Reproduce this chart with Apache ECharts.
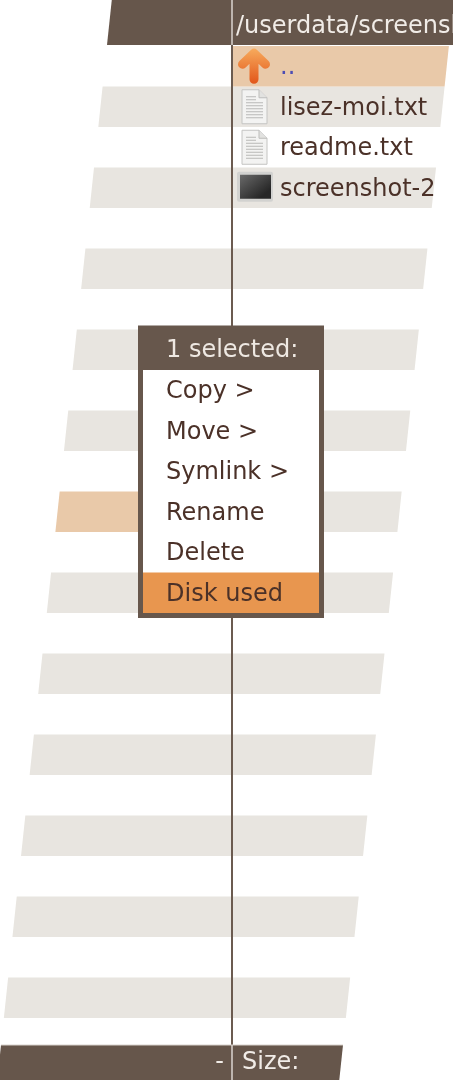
<!DOCTYPE html>
<html>
<head>
<meta charset="utf-8">
<script src="https://cdn.jsdelivr.net/npm/echarts@6/dist/echarts.min.js"></script>
<style>
html, body { margin: 0; padding: 0; background: #fff; }
#chart { width: 453px; height: 1080px; }
</style>
</head>
<body>
<div id="chart"></div>
<script>
// contents of the screen
var headerPath = '/userdata/screenshots';
var fileNames = ['..', 'lisez-moi.txt', 'readme.txt', 'screenshot-2'];
var fileIcons = ['up', 'doc', 'doc', 'image'];
var stripeRows = [1, 3, 5, 7, 9, 11, 13, 15, 17, 19, 21, 23];
var selectedRightRows = [0];
var selectedLeftRows = [11];
var menuTitle = '1 selected:';
var menuItems = ['Copy >', 'Move >', 'Symlink >', 'Rename', 'Delete', 'Disk used'];
var menuActive = 5;
var menuFirstRow = 7;
var footerLeft = '-';
var footerRight = 'Size:';

var TOP = 46, ROW_H = 40.5, SKEW = 0.106, LEFT0 = 107, WIDTH = 342, SPLIT = 232;
var HEAD_H = 45, FOOT_Y = 1045, TXT_DY = 2;
var FONT = "'DejaVu Sans', sans-serif", FS = 24;
var DARK = '#66564b', GRAY = '#e8e5e0', PEACH = '#e9c9a9', ORANGE = '#e8964f', INK = '#4b3128';

function edge(y) { return LEFT0 - SKEW * (y - HEAD_H); }
function rowTop(i) { return TOP + ROW_H * i; }

function quad(api, x0a, x1a, y0, x0b, x1b, y1) {
    return [api.coord([x0a, y0]), api.coord([x1a, y0]), api.coord([x1b, y1]), api.coord([x0b, y1])];
}

var rowData = [];
stripeRows.forEach(function (r) { rowData.push([r, selectedLeftRows.indexOf(r) >= 0 ? 2 : 1]); });
selectedRightRows.forEach(function (r) { rowData.push([r, 3]); });

var myChart = echarts.init(document.getElementById('chart'));
var option = {
    animation: false,
    grid: { left: 0, right: 0, top: 0, bottom: 0 },
    xAxis: { type: 'value', min: 0, max: 453, show: false },
    yAxis: { type: 'value', min: 0, max: 1080, inverse: true, show: false },
    series: [
        {
            // striped rows
            type: 'custom', z: 1, silent: true,
            data: rowData,
            renderItem: function (params, api) {
                var r = api.value(0), kind = api.value(1);
                var y0 = rowTop(r), y1 = y0 + ROW_H;
                var l0 = edge(y0), l1 = edge(y1);
                var children = [];
                if (kind === 1) {
                    children.push({ type: 'polygon', shape: { points: quad(api, l0, l0 + WIDTH, y0, l1, l1 + WIDTH, y1) }, style: { fill: GRAY } });
                } else if (kind === 2) {
                    children.push({ type: 'polygon', shape: { points: quad(api, l0, SPLIT, y0, l1, SPLIT, y1) }, style: { fill: PEACH } });
                    children.push({ type: 'polygon', shape: { points: quad(api, SPLIT, l0 + WIDTH, y0, SPLIT, l1 + WIDTH, y1) }, style: { fill: GRAY } });
                } else {
                    children.push({ type: 'polygon', shape: { points: quad(api, SPLIT, l0 + WIDTH, y0, SPLIT, l1 + WIDTH, y1) }, style: { fill: PEACH } });
                }
                return { type: 'group', children: children };
            }
        },
        {
            // header, footer and the column divider
            type: 'custom', z: 2, silent: true,
            data: [[0]],
            renderItem: function (params, api) {
                var a = api.coord([SPLIT, 0]);
                return {
                    type: 'group',
                    children: [
                        { type: 'line', shape: { x1: a[0], y1: HEAD_H, x2: a[0], y2: FOOT_Y }, style: { stroke: '#6b5b50', lineWidth: 2 } },
                        { type: 'polygon', shape: { points: quad(api, edge(0), 470, 0, edge(HEAD_H), 470, HEAD_H) }, style: { fill: DARK } },
                        { type: 'polygon', shape: { points: quad(api, edge(FOOT_Y), edge(FOOT_Y) + WIDTH, FOOT_Y, edge(1080), edge(1080) + WIDTH, 1080) }, style: { fill: DARK } },
                        { type: 'line', shape: { x1: a[0], y1: 0, x2: a[0], y2: HEAD_H }, style: { stroke: '#ddd6d0', lineWidth: 1.5 } },
                        { type: 'line', shape: { x1: a[0], y1: FOOT_Y, x2: a[0], y2: 1080 }, style: { stroke: '#ddd6d0', lineWidth: 1.5 } },
                        { type: 'line', shape: { x1: edge(FOOT_Y), y1: FOOT_Y, x2: edge(FOOT_Y) + WIDTH, y2: FOOT_Y }, style: { stroke: '#d8d2cc', lineWidth: 1 } },
                        { type: 'text', style: { text: headerPath, x: SPLIT + 4, y: 25 + TXT_DY, fill: '#f1ece7', fontSize: FS, fontFamily: FONT, verticalAlign: 'middle' } },
                        { type: 'text', style: { text: footerLeft, x: SPLIT - 8, y: 1061 + TXT_DY, fill: '#f1ece7', fontSize: FS, fontFamily: FONT, verticalAlign: 'middle', align: 'right' } },
                        { type: 'text', style: { text: footerRight, x: SPLIT + 10, y: 1061 + TXT_DY, fill: '#f1ece7', fontSize: FS, fontFamily: FONT, verticalAlign: 'middle' } }
                    ]
                };
            }
        },
        {
            // file list
            type: 'custom', z: 3, silent: true,
            data: fileNames.map(function (n, i) { return [i]; }),
            renderItem: function (params, api) {
                var i = api.value(0);
                var cy = rowTop(i) + ROW_H / 2;
                var icon = fileIcons[i];
                var children = [];
                if (icon === 'up') {
                    var ax = 254, ay = cy + 2;
                    children.push({
                        type: 'path',
                        shape: { pathData: 'M' + ax + ',' + (ay - 13) + ' L' + ax + ',' + (ay + 11) +
                            ' M' + (ax - 11.5) + ',' + (ay - 4) + ' L' + ax + ',' + (ay - 15) + ' L' + (ax + 11.5) + ',' + (ay - 4) },
                        style: {
                            fill: null, lineWidth: 9, lineCap: 'round', lineJoin: 'round',
                            stroke: new echarts.graphic.LinearGradient(0, 0, 0, 1, [{ offset: 0, color: '#f7aa5c' }, { offset: 1, color: '#e2561a' }])
                        }
                    });
                } else if (icon === 'doc') {
                    var t = cy - 17, x0 = 242;
                    children.push({
                        type: 'path',
                        shape: { pathData: 'M' + x0 + ',' + t + ' L' + (x0 + 17) + ',' + t + ' L' + (x0 + 25) + ',' + (t + 8) + ' L' + (x0 + 25) + ',' + (t + 34) + ' L' + x0 + ',' + (t + 34) + ' Z' },
                        style: { fill: '#f3f3f2', stroke: '#c4c4c2', lineWidth: 1 }
                    });
                    children.push({
                        type: 'path',
                        shape: { pathData: 'M' + (x0 + 17) + ',' + t + ' L' + (x0 + 17) + ',' + (t + 8) + ' L' + (x0 + 25) + ',' + (t + 8) },
                        style: { fill: '#e2e2e0', stroke: '#bdbdbb', lineWidth: 1 }
                    });
                    for (var k = 0; k < 8; k++) {
                        var ly = t + 7 + k * 3;
                        children.push({ type: 'line', shape: { x1: x0 + 4, y1: ly, x2: x0 + (k < 2 ? 14 : 21), y2: ly }, style: { stroke: '#b9b9b7', lineWidth: 1 } });
                    }
                } else {
                    children.push({
                        type: 'rect',
                        shape: { x: 237, y: cy - 16, width: 36, height: 30, r: 2 },
                        style: { fill: '#d2d2d0' }
                    });
                    children.push({
                        type: 'rect',
                        shape: { x: 240, y: cy - 13, width: 31, height: 24 },
                        style: { fill: new echarts.graphic.LinearGradient(0, 0, 0.6, 1, [{ offset: 0, color: '#6a6a6a' }, { offset: 1, color: '#262626' }]) }
                    });
                }
                children.push({
                    type: 'text',
                    style: { text: fileNames[i], x: 280, y: cy + TXT_DY, fill: icon === 'up' ? '#4c4cb4' : INK, fontSize: FS, fontFamily: FONT, verticalAlign: 'middle' }
                });
                return { type: 'group', children: children };
            }
        },
        {
            // popup menu
            type: 'custom', z: 4, silent: true,
            data: menuItems.map(function (n, i) { return [i]; }),
            renderItem: function (params, api) {
                var i = api.value(0);
                var children = [];
                var t0 = rowTop(menuFirstRow), boxTop = t0 - 4;
                var y0 = rowTop(menuFirstRow + 1 + i);
                if (i === 0) {
                    var bottom = rowTop(menuFirstRow + 1 + menuItems.length);
                    children.push({ type: 'rect', shape: { x: 138, y: boxTop, width: 186, height: bottom + 5 - boxTop }, style: { fill: '#67574c' } });
                    children.push({ type: 'rect', shape: { x: 143, y: y0, width: 176, height: bottom - y0 }, style: { fill: '#fff' } });
                    children.push({ type: 'text', style: { text: menuTitle, x: 166, y: t0 + ROW_H / 2 - 1 + TXT_DY, fill: '#eee8e2', fontSize: FS, fontFamily: FONT, verticalAlign: 'middle' } });
                }
                if (i === menuActive) {
                    children.push({ type: 'rect', shape: { x: 143, y: y0, width: 176, height: ROW_H }, style: { fill: ORANGE } });
                }
                children.push({ type: 'text', style: { text: menuItems[i], x: 166, y: y0 + ROW_H / 2 + TXT_DY, fill: INK, fontSize: FS, fontFamily: FONT, verticalAlign: 'middle' } });
                return { type: 'group', children: children };
            }
        }
    ]
};
myChart.setOption(option);
</script>
</body>
</html>
